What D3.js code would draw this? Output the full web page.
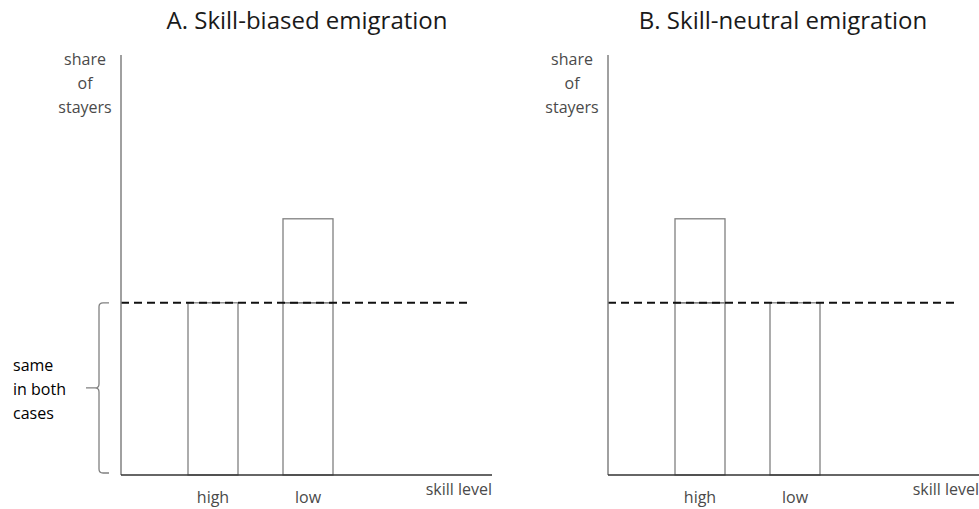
<!DOCTYPE html>
<html>
<head>
<meta charset="utf-8">
<script src="https://cdn.jsdelivr.net/npm/d3@7"></script>
<style>
  body { margin: 0; background: #fff; }
  svg { display: block; }
  .title { font-family: "Open Sans", sans-serif; font-size: 24px; fill: #1a1a1a; }
  .lbl { font-family: "Open Sans", sans-serif; font-size: 16px; fill: #4a4a4a; }
  .note { font-family: "Open Sans", sans-serif; font-size: 16px; fill: #000; }
</style>
</head>
<body>
<div id="chart"></div>
<script>
const categories = ["high", "low"];
const panelTitles = ["A. Skill-biased emigration", "B. Skill-neutral emigration"];
// share of stayers: common base segment, then the extra segment on top
const baseShare = [[41, 41], [41, 41]];
const extraShare = [[0, 20], [20, 0]];
const yLabel = ["share", "of", "stayers"];
const xLabel = "skill level";
const braceLabel = ["same", "in both", "cases"];

const width = 979, height = 509;
const svg = d3.select("#chart").append("svg")
  .attr("width", width).attr("height", height);

const y = d3.scaleLinear().domain([0, 100]).range([475, 55]);
const axisLen = 371;
const origins = [121, 608];
const titleX = [307, 783];

const x = d3.scaleBand().domain(categories)
  .range([67, 212]).paddingInner(45 / 95).paddingOuter(0);

panelTitles.forEach((title, p) => {
  const g = svg.append("g").attr("transform", `translate(${origins[p]},0)`);

  svg.append("text").attr("class", "title")
    .attr("x", titleX[p]).attr("y", 29)
    .attr("text-anchor", "middle").text(title);

  // bars
  const rows = categories.map((c, i) => ({
    c, base: baseShare[p][i], extra: extraShare[p][i]
  }));
  g.selectAll(".base").data(rows).join("rect")
    .attr("x", (d) => x(d.c)).attr("width", x.bandwidth())
    .attr("y", (d) => y(d.base)).attr("height", (d) => y(0) - y(d.base))
    .attr("fill", "none").attr("stroke", "#808080").attr("stroke-width", 1.3);
  g.selectAll(".extra").data(rows.filter((d) => d.extra > 0)).join("rect")
    .attr("x", (d) => x(d.c)).attr("width", x.bandwidth())
    .attr("y", (d) => y(d.base + d.extra)).attr("height", (d) => y(d.base) - y(d.base + d.extra))
    .attr("fill", "none").attr("stroke", "#808080").attr("stroke-width", 1.3);

  // dashed reference level
  g.append("line")
    .attr("x1", 0).attr("x2", 351)
    .attr("y1", y(baseShare[p][0])).attr("y2", y(baseShare[p][0]))
    .attr("stroke", "#111").attr("stroke-width", 2)
    .attr("stroke-dasharray", "8,5");

  // axes
  g.append("line").attr("x1", 0).attr("x2", 0)
    .attr("y1", y(100)).attr("y2", y(0))
    .attr("stroke", "#808080").attr("stroke-width", 1.5);
  g.append("line").attr("x1", 0).attr("x2", axisLen)
    .attr("y1", y(0)).attr("y2", y(0))
    .attr("stroke", "#333").attr("stroke-width", 1.5);

  g.selectAll(".cat").data(categories).join("text")
    .attr("class", "lbl")
    .attr("x", (d) => x(d) + x.bandwidth() / 2).attr("y", 503)
    .attr("text-anchor", "middle").text((d) => d);

  g.append("text").attr("class", "lbl")
    .attr("x", axisLen).attr("y", 495)
    .attr("text-anchor", "end").text(xLabel);

  g.selectAll(".ylab").data(yLabel).join("text")
    .attr("class", "lbl")
    .attr("x", -36).attr("y", (d, i) => 65 + i * 24)
    .attr("text-anchor", "middle").text((d) => d);
});

// brace on panel A
const bTop = y(baseShare[0][0]), bBot = y(0) - 2, bMid = (bTop + bBot) / 2;
const bx = 99;
const brace = d3.path();
brace.moveTo(bx + 10, bTop);
brace.lineTo(bx + 4, bTop);
brace.quadraticCurveTo(bx, bTop, bx, bTop + 4);
brace.lineTo(bx, bMid - 4);
brace.quadraticCurveTo(bx, bMid, bx - 4, bMid);
brace.lineTo(bx - 13, bMid);
brace.moveTo(bx - 4, bMid);
brace.quadraticCurveTo(bx, bMid, bx, bMid + 4);
brace.lineTo(bx, bBot - 4);
brace.quadraticCurveTo(bx, bBot, bx + 4, bBot);
brace.lineTo(bx + 10, bBot);
svg.append("path").attr("d", brace.toString())
  .attr("fill", "none").attr("stroke", "#808080").attr("stroke-width", 1.3);

svg.selectAll(".note").data(braceLabel).join("text")
  .attr("class", "note")
  .attr("x", 13).attr("y", (d, i) => 371 + i * 24)
  .text((d) => d);
</script>
</body>
</html>
